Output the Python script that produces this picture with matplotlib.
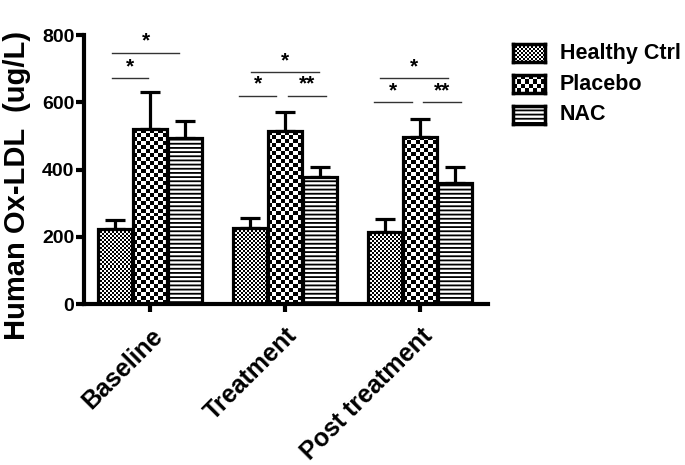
import numpy as np
import matplotlib
matplotlib.use('Agg')
import matplotlib.pyplot as plt
from matplotlib.patches import Rectangle

plt.rcParams['font.family'] = ['Liberation Sans', 'DejaVu Sans']
plt.rcParams['font.weight'] = 'bold'
plt.rcParams['hatch.linewidth'] = 1.3

groups = ['Baseline', 'Treatment', 'Post treatment']
series = ['Healthy Ctrl', 'Placebo', 'NAC']
healthy = [223, 226, 214]
placebo = [520, 514, 498]
nac = [494, 378, 360]
healthy_err = [27, 30, 39]
placebo_err = [110, 57, 53]
nac_err = [50, 29, 47]
yticks = [0, 200, 400, 600, 800]

# significance marks: (group, start offset, end offset, height, label)
sig = [(0, -0.28, 0.215, 747, '*'), (0, -0.28, -0.015, 672, '*'),
       (1, -0.25, 0.25, 690, '*'), (1, -0.34, -0.067, 619, '*'), (1, 0.02, 0.30, 619, '**'),
       (2, -0.296, 0.207, 672, '*'), (2, -0.34, -0.06, 601, '*'), (2, 0.02, 0.30, 601, '**')]


def checker(nx, ny):
    return np.indices((ny, nx)).sum(axis=0) % 2


fig = plt.figure(figsize=(6.85, 4.65), dpi=100)
ax = fig.add_axes([0.1226, 0.3462, 0.59, 0.5785])
xlim = (-0.49, 2.504)
ax.set_xlim(*xlim)
ax.set_ylim(0, 800)

x = np.arange(len(groups))
w = 0.25
offs = [-0.26, 0.0, 0.26]
data = [healthy, placebo, nac]
errs = [healthy_err, placebo_err, nac_err]
cells = [2, 4, None]

for i in range(3):
    bars = ax.bar(x + offs[i], data[i], w, facecolor='white',
                  edgecolor='black', linewidth=2.3, zorder=3,
                  hatch='----' if cells[i] is None else None)
    ax.errorbar(x + offs[i], data[i], yerr=[np.zeros(3), errs[i]], fmt='none',
                ecolor='black', elinewidth=2.3, capsize=7, capthick=2.3, zorder=2)
    if cells[i]:
        for b in bars:
            b.set_facecolor('none')
            x0, x1 = b.get_x(), b.get_x() + b.get_width()
            h = b.get_height()
            p = ax.transData.transform([[x0, 0], [x1, h]])
            nx = max(1, int(round((p[1, 0] - p[0, 0]) / cells[i])))
            ny = max(1, int(round((p[1, 1] - p[0, 1]) / cells[i])))
            ax.imshow(checker(nx, ny), extent=(x0, x1, 0, h), cmap='gray',
                      interpolation='nearest', aspect='auto', zorder=2.5)

ax.set_xlim(*xlim)
ax.set_ylim(0, 800)

for g, a, b, yy, lab in sig:
    ax.plot([g + a, g + b], [yy, yy], color='#333333', lw=1, clip_on=False)
    ax.text(g + (a + b) / 2, yy + 6, lab, ha='center', va='bottom', fontsize=15,
            fontweight='bold')

for s in ['top', 'right']:
    ax.spines[s].set_visible(False)
for s in ['left', 'bottom']:
    ax.spines[s].set_linewidth(3)

ax.set_yticks(yticks)
ax.set_yticklabels([str(v) for v in yticks], fontsize=14, fontweight='bold')
ax.tick_params(axis='y', length=6, width=3, pad=1)
ax.set_xticks(x)
ax.set_xticklabels(groups, rotation=45, ha='right', rotation_mode='anchor',
                   fontsize=18, fontweight='bold')
ax.tick_params(axis='x', length=6, width=3, pad=8)
fig.text(17 / 685, 1 - 185 / 465, 'Human Ox-LDL  (ug/L)', rotation=90, ha='center',
         va='center', fontsize=21, fontweight='bold')

# legend drawn by hand so the checker swatches match the bars
rows = [53, 84, 115]
for i in range(3):
    cy = 1 - rows[i] / 465
    sa = fig.add_axes([513 / 685, cy - 9 / 465, 32 / 685, 18 / 465])
    sa.set_xticks([])
    sa.set_yticks([])
    for sp in sa.spines.values():
        sp.set_linewidth(2.5)
    if cells[i]:
        n = 32 // cells[i]
        sa.imshow(checker(n, 18 // cells[i]), cmap='gray', interpolation='nearest', aspect='auto')
    else:
        sa.add_patch(Rectangle((0, 0), 1, 1, facecolor='white', edgecolor='black',
                               hatch='----', lw=0))
    fig.text(560 / 685, cy, series[i], ha='left', va='center', fontsize=15.5, fontweight='bold')

fig.savefig('out.png', dpi=100)
